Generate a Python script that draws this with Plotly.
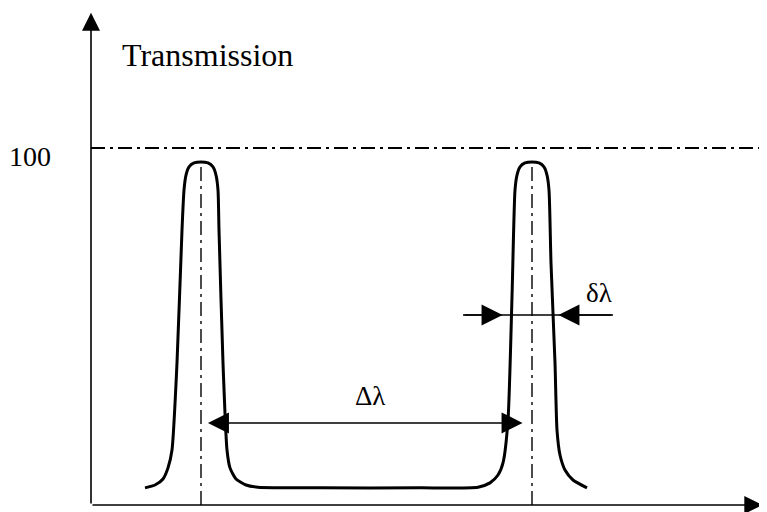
import plotly.graph_objects as go

# ---- data (x: wavelength units, y: transmission %) ----
curve_x = [54, 64, 72, 77, 81, 86, 91, 93, 95, 98, 103, 110, 117, 122, 125, 127, 128, 132, 136, 139, 145, 155, 167,
           229, 329, 387,
           399, 407, 412, 417, 421, 424, 426, 429, 434, 441, 448, 453, 456, 458, 460, 464, 466, 469, 474, 482, 496]
curve_y = [4.8, 5.6, 7.3, 10.4, 15.4, 39.8, 77.0, 88.2, 92.4, 94.7, 95.8, 96.1, 95.8, 94.7, 92.4, 88.2, 77.0, 39.8, 15.4, 10.4, 7.3, 5.6, 5.0,
           4.8, 4.8, 5.0,
           6.2, 8.4, 11.8, 23.8, 58.3, 88.2, 92.4, 94.7, 95.8, 96.1, 95.8, 94.7, 92.4, 88.2, 67.8, 39.8, 21.0, 14.0, 9.8, 7.0, 4.8]

peak_centers = [110, 441]
peak_top = 96.1
ref_level = 100
y_tickvals = [100]
y_ticktext = ["100"]

# Δλ (free spectral range) arrow and δλ (FWHM) markers
fsr_start, fsr_end, fsr_level = 110, 437, 23.0
fwhm_left, fwhm_right, fwhm_level = 417, 462, 53.2
fwhm_tail_left, fwhm_tail_right = 372, 522

x_max = 676
y_scale = 3.57          # px per % (layout only)
plot_h = 497
y_top = plot_h / y_scale

SERIF = "Liberation Serif, Times New Roman, serif"

fig = go.Figure()
fig.add_trace(go.Scatter(
    x=curve_x, y=curve_y, mode="lines",
    line=dict(color="black", width=3.0, shape="spline", smoothing=0.6),
    hoverinfo="skip", showlegend=False))

shapes = []
# horizontal 100% reference line
shapes.append(dict(type="line", xref="x", yref="y", x0=0, x1=x_max, y0=ref_level, y1=ref_level,
                   line=dict(color="black", width=1.8, dash="14px,5px,3px,5px")))
# vertical centre lines through each peak
for pc in peak_centers:
    shapes.append(dict(type="line", xref="x", yref="y", x0=pc, x1=pc, y0=0, y1=peak_top,
                       line=dict(color="black", width=1.4, dash="14px,5px,3px,5px")))
# δλ shaft
shapes.append(dict(type="line", xref="x", yref="y", x0=fwhm_tail_left, x1=fwhm_tail_right,
                   y0=fwhm_level, y1=fwhm_level, line=dict(color="black", width=1.5)))

annotations = []


def arrow(x_tip, y_tip, x_tail, y_tail, scale, lw, both=False):
    d = dict(x=x_tip, y=y_tip, ax=x_tail, ay=y_tail, xref="x", yref="y", axref="x", ayref="y",
             text="", showarrow=True, arrowhead=2, arrowwidth=lw, arrowsize=scale / lw,
             arrowcolor="black", standoff=1.3 * scale)
    if both:
        d.update(arrowside="end+start", startarrowhead=2, startarrowsize=scale / lw,
                 startstandoff=1.3 * scale)
    return d


# axes with arrow heads
annotations.append(arrow(0, y_top, 0, 0, 3.6, 1.6))
annotations.append(arrow(x_max, 0, 0, 0, 3.6, 1.6))
# Δλ double arrow
annotations.append(arrow(fsr_end, fsr_level, fsr_start, fsr_level, 4.2, 1.5, both=True))
# δλ inward arrows
annotations.append(arrow(fwhm_left, fwhm_level, fwhm_tail_left, fwhm_level, 4.2, 1.5))
annotations.append(arrow(fwhm_right, fwhm_level, fwhm_tail_right, fwhm_level, 4.2, 1.5))

# tick label(s) of the transmission axis (placed left of the axis, in paper units)
for tv, tt in zip(y_tickvals, y_ticktext):
    annotations.append(dict(x=-38 / x_max, y=tv, xref="paper", yref="y", text=tt, showarrow=False,
                            xanchor="right", yanchor="middle", yshift=-8,
                            font=dict(family=SERIF, size=28, color="black")))

# texts
annotations.append(dict(x=29, y=126.0, xref="x", yref="y", text="Transmission", showarrow=False,
                        xanchor="left", yanchor="middle",
                        font=dict(family=SERIF, size=32, color="black")))
annotations.append(dict(x=279, y=30.5, xref="x", yref="y", text="Δλ", showarrow=False,
                        xanchor="center", yanchor="middle",
                        font=dict(family=SERIF, size=27, color="black")))
annotations.append(dict(x=508, y=59.5, xref="x", yref="y", text="δλ", showarrow=False,
                        xanchor="center", yanchor="middle",
                        font=dict(family=SERIF, size=27, color="black")))

fig.update_layout(
    width=759, height=504,
    margin=dict(l=83, r=0, t=0, b=7),
    paper_bgcolor="white", plot_bgcolor="white",
    shapes=shapes, annotations=annotations,
    xaxis=dict(range=[0, x_max], visible=False, fixedrange=True),
    yaxis=dict(range=[0, y_top], visible=False, fixedrange=True),
    showlegend=False,
)

fig.write_html("out.html")
